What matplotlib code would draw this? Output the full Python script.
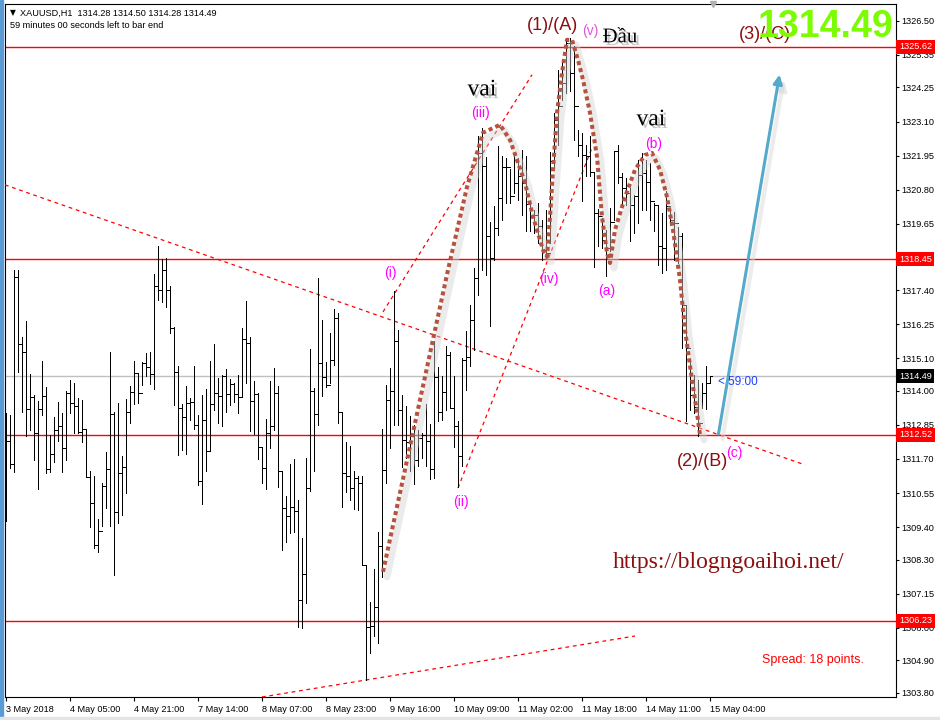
import matplotlib
matplotlib.use('Agg')
import matplotlib.pyplot as plt
from matplotlib.collections import LineCollection
from matplotlib import patheffects as pe
from matplotlib.transforms import offset_copy, blended_transform_factory
from matplotlib.patches import Rectangle

plt.rcParams['font.family'] = ['Liberation Sans', 'DejaVu Sans']

# ---------------- data: XAUUSD H1 bars (index 0 = 3 May 2018) ----------------
highs = [
    1313.27, 1313.19, 1318.09, 1318.09, 1315.82, 1316.36, 1314.56, 1313.85, 1313.65, 1315.01,
    1314.13, 1312.50, 1313.12, 1313.62, 1313.26, 1314.00, 1314.37, 1314.27, 1313.76, 1313.69,
    1312.71, 1311.31, 1311.13, 1309.67, 1310.89, 1311.94, 1315.32, 1313.30, 1313.58, 1311.80,
    1313.73, 1314.15, 1315.01, 1314.62, 1314.98, 1315.27, 1315.31, 1317.95, 1318.90, 1318.45,
    1318.48, 1317.55, 1316.17, 1314.85, 1313.57, 1314.17, 1313.75, 1314.85, 1313.19, 1313.87,
    1314.07, 1315.01, 1315.59, 1314.42, 1314.55, 1314.73, 1314.39, 1314.26, 1314.53, 1316.11,
    1317.05, 1315.83, 1314.34, 1313.93, 1312.12, 1313.05, 1314.34, 1314.78, 1314.15, 1311.30,
    1310.45, 1311.53, 1311.71, 1310.32, 1309.02, 1311.73, 1315.42, 1314.09, 1317.81, 1316.40,
    1314.96, 1315.97, 1316.76, 1316.63, 1313.30, 1312.29, 1312.14, 1311.30, 1311.13, 1311.13,
    1308.12, 1306.88, 1307.98, 1309.25, 1312.71, 1314.20, 1314.76, 1317.39, 1316.06, 1313.87,
    1313.50, 1313.16, 1312.85, 1312.68, 1312.59, 1313.56, 1312.89, 1315.67, 1314.82, 1314.51,
    1315.52, 1315.33, 1314.49, 1312.97, 1315.11, 1316.01, 1316.91, 1318.15, 1322.62, 1322.88,
    1321.90, 1319.72, 1320.23, 1322.26, 1321.94, 1321.86, 1321.49, 1321.98, 1321.86, 1322.15,
    1321.94, 1320.34, 1320.12, 1320.34, 1319.78, 1320.12, 1322.06, 1323.38, 1324.85, 1325.13,
    1325.88, 1325.92, 1325.64, 1322.82, 1322.71, 1322.31, 1322.60, 1321.41, 1320.15, 1319.84,
    1319.44, 1320.17, 1322.09, 1322.31, 1321.36, 1321.19, 1320.85, 1320.62, 1321.81, 1322.03,
    1321.81, 1321.69, 1320.34, 1320.23, 1320.01, 1320.74, 1320.12, 1320.06, 1319.55, 1319.33,
    1316.91, 1315.05, 1314.54, 1314.37, 1314.26, 1314.85, 1314.50,
]
lows = [
    1309.62, 1311.39, 1311.27, 1314.65, 1313.30, 1312.46, 1312.68, 1311.65, 1310.68, 1313.19,
    1311.22, 1311.27, 1311.61, 1312.31, 1311.27, 1311.65, 1313.26, 1312.57, 1312.59, 1312.29,
    1311.08, 1309.39, 1308.68, 1308.57, 1309.42, 1310.03, 1309.42, 1307.78, 1309.55, 1309.81,
    1310.54, 1312.91, 1313.57, 1313.58, 1314.20, 1314.51, 1314.25, 1314.08, 1317.08, 1316.99,
    1316.85, 1315.95, 1313.51, 1311.82, 1312.01, 1311.88, 1313.02, 1312.72, 1310.83, 1310.18,
    1311.31, 1311.96, 1313.36, 1312.93, 1312.82, 1313.29, 1313.51, 1313.63, 1313.25, 1313.80,
    1314.26, 1312.65, 1312.55, 1311.70, 1310.90, 1310.68, 1312.06, 1312.68, 1310.77, 1308.63,
    1308.88, 1309.21, 1309.23, 1306.04, 1305.98, 1306.85, 1310.62, 1311.31, 1312.85, 1313.83,
    1314.13, 1314.26, 1314.88, 1312.93, 1310.09, 1310.57, 1310.32, 1310.00, 1309.98, 1308.12,
    1304.24, 1305.14, 1305.72, 1305.48, 1307.73, 1310.88, 1312.07, 1312.84, 1312.85, 1311.42,
    1311.72, 1311.28, 1310.86, 1311.45, 1311.73, 1311.45, 1311.02, 1311.05, 1312.97, 1313.02,
    1313.36, 1313.42, 1312.12, 1310.77, 1311.45, 1314.04, 1314.83, 1315.39, 1317.25, 1318.09,
    1317.92, 1316.18, 1318.43, 1319.27, 1319.78, 1320.34, 1320.34, 1320.68, 1320.46, 1319.95,
    1319.39, 1319.39, 1319.33, 1319.00, 1318.43, 1318.49, 1319.00, 1321.58, 1322.31, 1323.84,
    1324.06, 1324.12, 1322.48, 1321.92, 1320.40, 1321.25, 1321.25, 1318.20, 1318.88, 1318.82,
    1317.87, 1318.71, 1319.78, 1321.04, 1320.23, 1320.29, 1319.05, 1319.33, 1319.67, 1320.12,
    1320.12, 1319.78, 1319.39, 1318.26, 1317.98, 1318.09, 1319.61, 1318.43, 1318.32, 1315.44,
    1312.97, 1313.36, 1313.25, 1312.46, 1313.42, 1313.38, 1314.28,
]
closes = [
    1312.30, 1311.53, 1317.84, 1315.60, 1315.30, 1313.38, 1313.81, 1312.57, 1313.39, 1313.83,
    1311.37, 1311.87, 1312.67, 1312.82, 1312.06, 1313.93, 1313.58, 1313.49, 1312.60, 1312.70,
    1311.08, 1310.20, 1308.78, 1309.28, 1310.79, 1311.35, 1313.22, 1309.90, 1311.22, 1311.42,
    1313.29, 1313.95, 1314.60, 1313.94, 1314.93, 1314.82, 1314.56, 1317.53, 1317.40, 1318.08,
    1317.40, 1316.12, 1314.63, 1313.42, 1313.13, 1313.58, 1313.64, 1312.84, 1310.96, 1313.01,
    1311.96, 1313.56, 1313.92, 1313.83, 1314.52, 1313.88, 1314.23, 1313.89, 1313.81, 1315.77,
    1315.61, 1313.65, 1313.90, 1312.10, 1311.38, 1312.57, 1312.80, 1313.92, 1311.30, 1310.04,
    1309.79, 1310.08, 1309.94, 1306.94, 1307.82, 1310.73, 1314.01, 1313.22, 1314.94, 1314.46,
    1314.20, 1315.05, 1316.46, 1313.30, 1311.24, 1311.11, 1310.71, 1311.05, 1310.90, 1308.12,
    1306.04, 1306.06, 1306.69, 1308.77, 1311.33, 1313.70, 1313.98, 1315.70, 1313.36, 1312.35,
    1312.29, 1312.46, 1311.67, 1312.40, 1312.52, 1312.32, 1311.36, 1314.46, 1313.30, 1313.95,
    1315.22, 1313.42, 1312.80, 1311.79, 1315.05, 1315.16, 1316.40, 1317.81, 1322.03, 1321.60,
    1319.22, 1318.50, 1319.52, 1320.51, 1321.58, 1321.58, 1320.60, 1321.02, 1321.25, 1321.02,
    1320.30, 1319.89, 1319.95, 1319.56, 1318.77, 1318.65, 1321.75, 1323.16, 1323.61, 1324.40,
    1325.75, 1324.74, 1323.61, 1322.31, 1321.98, 1321.92, 1321.41, 1320.01, 1319.91, 1319.10,
    1318.82, 1319.72, 1322.09, 1321.21, 1320.85, 1320.68, 1320.29, 1320.57, 1321.30, 1321.36,
    1321.07, 1320.40, 1320.29, 1318.88, 1318.82, 1320.23, 1319.78, 1319.67, 1319.22, 1316.91,
    1315.44, 1313.87, 1313.47, 1312.91, 1313.92, 1314.26, 1314.49,
]
opens = [
    1311.20, 1312.30, 1311.53, 1317.84, 1315.60, 1315.30, 1313.38, 1313.81, 1312.57, 1313.39,
    1313.83, 1311.37, 1311.87, 1312.67, 1312.82, 1312.06, 1313.93, 1313.58, 1313.49, 1312.60,
    1312.70, 1311.08, 1310.20, 1308.78, 1309.28, 1310.79, 1311.35, 1313.22, 1309.90, 1311.22,
    1311.42, 1313.29, 1313.95, 1314.60, 1313.94, 1314.93, 1314.82, 1314.56, 1317.53, 1317.40,
    1318.08, 1317.40, 1316.12, 1314.63, 1313.42, 1313.13, 1313.58, 1313.64, 1312.84, 1310.96,
    1313.01, 1311.96, 1313.56, 1313.92, 1313.83, 1314.52, 1313.88, 1314.23, 1313.89, 1313.81,
    1315.77, 1315.61, 1313.65, 1313.90, 1312.10, 1311.38, 1312.57, 1312.80, 1313.92, 1311.30,
    1310.04, 1309.79, 1310.08, 1309.94, 1306.94, 1307.82, 1310.73, 1314.01, 1313.22, 1314.94,
    1314.46, 1314.20, 1315.05, 1316.46, 1313.30, 1311.24, 1311.11, 1310.71, 1311.05, 1310.90,
    1308.12, 1306.04, 1306.06, 1306.69, 1308.77, 1311.33, 1313.70, 1313.98, 1315.70, 1313.36,
    1312.35, 1312.29, 1312.46, 1311.67, 1312.40, 1312.52, 1312.32, 1311.36, 1314.46, 1313.30,
    1313.95, 1315.22, 1313.42, 1312.80, 1311.79, 1315.05, 1315.16, 1316.40, 1317.81, 1322.03,
    1321.60, 1319.22, 1318.50, 1319.52, 1320.51, 1321.58, 1321.58, 1320.60, 1321.02, 1321.25,
    1321.02, 1320.30, 1319.89, 1319.95, 1319.56, 1318.77, 1318.65, 1321.75, 1323.16, 1323.61,
    1324.40, 1325.75, 1324.74, 1323.61, 1322.31, 1321.98, 1321.92, 1321.41, 1320.01, 1319.91,
    1319.10, 1318.82, 1319.72, 1322.09, 1321.21, 1320.85, 1320.68, 1320.29, 1320.57, 1321.30,
    1321.36, 1321.07, 1320.40, 1320.29, 1318.88, 1318.82, 1320.23, 1319.78, 1319.67, 1319.22,
    1316.91, 1315.44, 1313.87, 1313.47, 1312.91, 1313.92, 1314.28,
]

time_tick_bars = [0, 16, 32, 48, 64, 80, 96, 112, 128, 144, 160, 176]
time_tick_labels = ["3 May 2018", "4 May 05:00", "4 May 21:00", "7 May 14:00", "8 May 07:00",
                    "8 May 23:00", "9 May 16:00", "10 May 09:00", "11 May 02:00", "11 May 18:00",
                    "14 May 11:00", "15 May 04:00"]
price_ticks = [1326.50, 1325.35, 1324.25, 1323.10, 1321.95, 1320.80, 1319.65, 1317.40, 1316.25,
               1315.10, 1314.00, 1312.85, 1311.70, 1310.55, 1309.40, 1308.30, 1307.15, 1306.00,
               1304.90, 1303.80]
level_lines = [1325.62, 1318.45, 1312.52, 1306.23]
current_price = 1314.49

# Elliott-wave / head-and-shoulders dotted curve (bar index, price)
wave_x = [94.25, 110.5, 115.25, 117.75, 119.25, 123.5, 126.0, 127.75, 129.75, 131.75, 134.25,
          135.25, 136.0, 136.75, 137.75, 139.0, 140.25, 141.5, 143.0, 144.25, 146.0, 147.75,
          149.0, 150.25, 151.0, 152.25, 154.75, 157.25, 159.75, 161.5, 163.5, 165.25, 166.75,
          168.5, 169.75, 171.5, 172.75, 173.5]
wave_y = [1307.89, 1318.09, 1320.89, 1322.04, 1322.72, 1322.99, 1322.48, 1321.80, 1321.03,
          1319.88, 1318.76, 1318.53, 1319.88, 1321.47, 1323.39, 1324.74, 1325.86, 1325.86,
          1325.18, 1324.51, 1323.39, 1321.91, 1319.88, 1318.66, 1318.32, 1319.44, 1320.55,
          1321.47, 1321.97, 1322.04, 1321.47, 1320.55, 1319.44, 1317.75, 1316.06, 1314.37,
          1313.26, 1312.51]

# dashed red trend lines: (x0, y0, x1, y1) in bar index / price
trend_lines = [
    (-0.25, 1320.96, 199.75, 1311.50),
    (64.0, 1303.66, 157.25, 1305.72),
    (94.25, 1316.67, 131.5, 1324.68),
    (113.0, 1310.72, 146.5, 1322.21),
]
arrow_start = (178.0, 1312.45)
arrow_end = (193.5, 1324.78)

# ---------------- figure ----------------
W, H = 940, 720
fig = plt.figure(figsize=(9.4, 7.2), dpi=100)
fig.patch.set_facecolor('white')
ax = fig.add_axes([5 / W, 1 - 697 / H, 891 / W, 693 / H])
ax.set_xlim(-0.25, 222.5)
ax.set_ylim(1303.66, 1327.07)
ax.set_facecolor('white')

# window decorations
fig.patches.append(Rectangle((0, 0), 3 / W, 1, transform=fig.transFigure, color='#5b9bd5', zorder=0))
fig.patches.append(Rectangle((0, 0), 1, 3 / H, transform=fig.transFigure, color='#e4e4e4', zorder=0))

# horizontal levels
for lvl in level_lines:
    ax.axhline(lvl, color='#ff0000', lw=1.0, zorder=2)
ax.axhline(current_price, color='#c0c0c0', lw=1.0, zorder=1)

# trend lines
for (x0, y0, x1, y1) in trend_lines:
    ax.plot([x0, x1], [y0, y1], color='#ff0000', lw=0.9, ls=(0, (3, 3)), zorder=3)

# OHLC bars
segs = []
for i in range(len(closes)):
    segs.append([(i, lows[i]), (i, highs[i])])
    segs.append([(i - 0.45, opens[i]), (i, opens[i])])
    segs.append([(i, closes[i]), (i + 0.45, closes[i])])
lc = LineCollection(segs, colors='black', linewidths=0.72, antialiased=False, zorder=4)
ax.add_collection(lc)

# wave curve with soft shadow
shadow_tr = offset_copy(ax.transData, fig=fig, x=4, y=-5, units='dots')
ax.plot(wave_x, wave_y, color='#d4d4d4', lw=5.0, alpha=0.45, transform=shadow_tr,
        solid_capstyle='round', zorder=5)
ax.plot(wave_x, wave_y, color='#b5533e', lw=2.9, ls=(0, (1, 0.8)), zorder=6,
        dash_capstyle='butt')

# blue arrow with shadow
ax.annotate('', xy=arrow_end, xytext=arrow_start,
            xycoords=shadow_tr, textcoords=shadow_tr,
            arrowprops=dict(arrowstyle='-|>', color='#dadada', lw=3, mutation_scale=14, alpha=0.5),
            zorder=5)
ax.annotate('', xy=arrow_end, xytext=arrow_start,
            arrowprops=dict(arrowstyle='-|>', color='#55aacc', lw=2.2, mutation_scale=13),
            zorder=7)

# text annotations
shadow = [pe.withSimplePatchShadow(offset=(2, -2), shadow_rgbFace='#909090', alpha=0.5)]
darkred = '#8b0f0f'
mag = '#ff00ff'
serif = ['Liberation Serif', 'DejaVu Serif']
ax.text(136.75, 1326.33, '(1)/(A)', color=darkred, fontsize=13, ha='center', va='center', zorder=8)
ax.text(146.0, 1326.16, '(v)', color='#dd55dd', fontsize=10, ha='center', va='center', zorder=8)
ax.text(153.5, 1325.93, 'Đầu', color='black', fontsize=15, ha='center', va='center', zorder=8,
        family=serif, path_effects=shadow)
ax.text(189.75, 1326.03, '(3)/(C)', color=darkred, fontsize=13, ha='center', va='center', zorder=8)
ax.text(221.75, 1326.30, '1314.49', color='#7cfc00', fontsize=27, fontweight='bold',
        ha='right', va='center', zorder=8)
ax.text(119.0, 1324.17, 'vai', color='black', fontsize=17, ha='center', va='center', zorder=8,
        family=serif, path_effects=shadow)
ax.text(161.25, 1323.16, 'vai', color='black', fontsize=17, ha='center', va='center', zorder=8,
        family=serif, path_effects=shadow)
for lab, x, y in [('(iii)', 118.5, 1323.39), ('(b)', 162.0, 1322.34), ('(i)', 96.0, 1317.99),
                  ('(iv)', 135.75, 1317.78), ('(a)', 150.25, 1317.38), ('(ii)', 113.75, 1310.25),
                  ('(c)', 182.0, 1311.91)]:
    ax.text(x, y, lab, color=mag, fontsize=10, ha='center', va='center', zorder=8)
ax.text(174.0, 1311.60, '(2)/(B)', color=darkred, fontsize=13, ha='center', va='center', zorder=8)
ax.text(178.0, 1314.30, '< 59:00', color='#2040ff', fontsize=8.5, ha='left', va='center', zorder=8)
ax.text(180.75, 1308.19, 'https://blogngoaihoi.net/', color=darkred, fontsize=17, ha='center',
        va='center', zorder=8, family=serif)
ax.text(201.75, 1304.91, 'Spread: 18 points.', color='#ff0000', fontsize=9, ha='center',
        va='center', zorder=8)

# header texts
ax.text(5 / 891, 1 - 9 / 693, '\u25bc', transform=ax.transAxes, fontsize=5.5, ha='left',
        va='center', family=['DejaVu Sans'])
ax.text(15 / 891, 1 - 9 / 693, 'XAUUSD,H1  1314.28 1314.50 1314.28 1314.49', transform=ax.transAxes,
        fontsize=6.6, ha='left', va='center')
ax.text(5 / 891, 1 - 21 / 693, '59 minutes 00 seconds left to bar end', transform=ax.transAxes,
        fontsize=6.6, ha='left', va='center')
ax.plot([176.75], [1327.07], marker='v', color='#b0b0b0', ms=5, clip_on=False, zorder=9)

# axes styling
for sp in ax.spines.values():
    sp.set_color('black')
    sp.set_linewidth(0.8)
ax.yaxis.tick_right()
ax.set_yticks(price_ticks)
ax.set_yticklabels([f'{p:.2f}' for p in price_ticks])
ax.tick_params(axis='y', length=2.5, width=0.8, pad=1.5, labelsize=6.6, colors='black')
ax.set_xticks(time_tick_bars)
ax.set_xticklabels(time_tick_labels)
ax.tick_params(axis='x', length=3, width=0.8, pad=2.5, labelsize=6.6)
for t in ax.get_xticklabels():
    t.set_ha('left')

# price labels on the axis
btr = blended_transform_factory(ax.transAxes, ax.transData)
for lvl in level_lines:
    ax.text(1.0033, lvl, f'{lvl:.2f}', transform=btr, color='white', fontsize=6.6, ha='left',
            va='center', clip_on=False, zorder=10,
            bbox=dict(boxstyle='square,pad=0.28', fc='#ff0000', ec='none'))
ax.text(1.0033, current_price, f'{current_price:.2f}', transform=btr, color='white', fontsize=6.6,
        ha='left', va='center', clip_on=False, zorder=10,
        bbox=dict(boxstyle='square,pad=0.28', fc='black', ec='none'))

fig.savefig('out.png', dpi=100)
